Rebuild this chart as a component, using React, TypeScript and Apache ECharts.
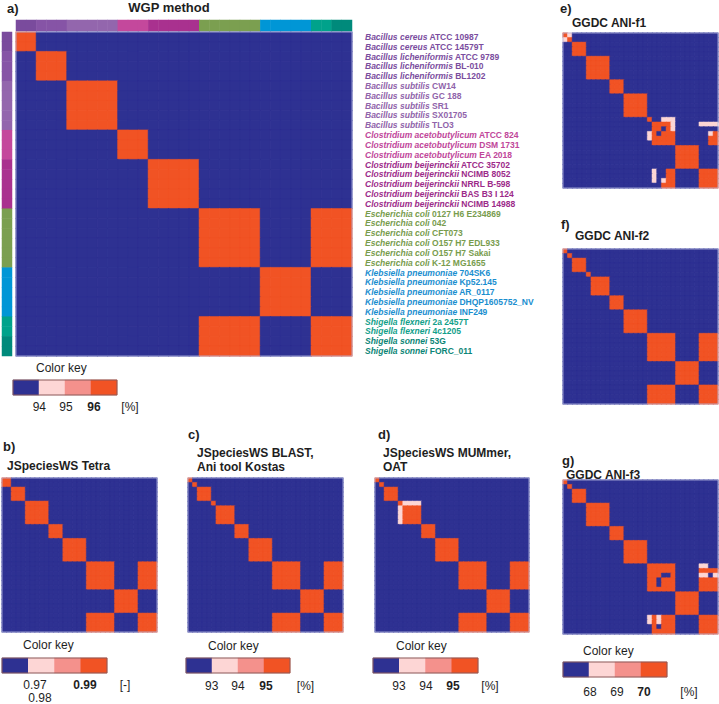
import { useEffect, useRef } from 'react';
import * as echarts from 'echarts';

const FONT = '"Liberation Sans", Arial, Helvetica, sans-serif';

const genomeSpecies = [
  'Bacillus cereus', 'Bacillus cereus',
  'Bacillus licheniformis', 'Bacillus licheniformis', 'Bacillus licheniformis',
  'Bacillus subtilis', 'Bacillus subtilis', 'Bacillus subtilis', 'Bacillus subtilis', 'Bacillus subtilis',
  'Clostridium acetobutylicum', 'Clostridium acetobutylicum', 'Clostridium acetobutylicum',
  'Clostridium beijerinckii', 'Clostridium beijerinckii', 'Clostridium beijerinckii', 'Clostridium beijerinckii', 'Clostridium beijerinckii',
  'Escherichia coli', 'Escherichia coli', 'Escherichia coli', 'Escherichia coli', 'Escherichia coli', 'Escherichia coli',
  'Klebsiella pneumoniae', 'Klebsiella pneumoniae', 'Klebsiella pneumoniae', 'Klebsiella pneumoniae', 'Klebsiella pneumoniae',
  'Shigella flexneri', 'Shigella flexneri', 'Shigella sonnei', 'Shigella sonnei',
];
const genomeStrains = [
  'ATCC 10987', 'ATCC 14579T',
  'ATCC 9789', 'BL-010', 'BL1202',
  'CW14', 'GC 188', 'SR1', 'SX01705', 'TLO3',
  'ATCC 824', 'DSM 1731', 'EA 2018',
  'ATCC 35702', 'NCIMB 8052', 'NRRL B-598', 'BAS B3 I 124', 'NCIMB 14988',
  '0127 H6 E234869', '042', 'CFT073', 'O157 H7 EDL933', 'O157 H7 Sakai', 'K-12 MG1655',
  '704SK6', 'Kp52.145', 'AR_0117', 'DHQP1605752_NV', 'INF249',
  '2a 2457T', '4c1205', '53G', 'FORC_011',
];
// annotation group of each genome (colour strips and label colours)
const genomeGroups = [0, 0, 1, 1, 1, 2, 2, 2, 2, 2, 3, 3, 3, 4, 4, 4, 4, 4, 5, 5, 5, 5, 5, 5, 6, 6, 6, 6, 6, 7, 7, 8, 8];
const stripColors = ['#7a4b9d', '#8654a6', '#9366ad', '#c4489c', '#a9318f', '#7b9f50', '#0096d6', '#00a28b', '#008a7b'];
const labelColors = ['#7a4d9e', '#7a4d9e', '#9063aa', '#c0469a', '#9c2a89', '#789c4d', '#1a8ecf', '#12a08a', '#0b8576'];

// colour key classes: 0 = below first threshold, 1, 2, 3 = above last threshold
const keyColors = ['#2e3192', '#fdd6d5', '#f4918c', '#f15324'];
const keyLevels = [0, 1, 2, 3];

// cluster id of every genome in each method (same cluster = top class)
const clustersWGP = [0, 0, 1, 1, 1, 2, 2, 2, 2, 2, 3, 3, 3, 4, 4, 4, 4, 4, 5, 5, 5, 5, 5, 5, 6, 6, 6, 6, 6, 5, 5, 5, 5];
const clustersTetra = [0, 0, 1, 1, 1, 2, 2, 2, 2, 2, 3, 3, 3, 4, 4, 4, 4, 4, 5, 5, 5, 5, 5, 5, 6, 6, 6, 6, 6, 5, 5, 5, 5];
const clustersBLAST = [0, 1, 2, 2, 2, 3, 4, 4, 4, 4, 5, 5, 5, 6, 6, 6, 6, 6, 7, 7, 7, 7, 7, 7, 8, 8, 8, 8, 8, 7, 7, 7, 7];
const clustersMUMmer = [0, 1, 2, 2, 2, 3, 4, 4, 4, 4, 5, 5, 5, 6, 6, 6, 6, 6, 7, 7, 7, 7, 7, 7, 8, 8, 8, 8, 8, 7, 7, 7, 7];
const clustersF1 = [0, 1, 2, 2, 2, 3, 3, 3, 3, 3, 4, 4, 4, 5, 5, 5, 5, 5, 6, 6, 6, 6, 6, 6, 7, 7, 7, 7, 7, 6, 6, 6, 6];
const clustersF2 = [0, 1, 2, 2, 2, 3, 4, 4, 4, 4, 5, 5, 5, 6, 6, 6, 6, 6, 7, 7, 7, 7, 7, 7, 8, 8, 8, 8, 8, 7, 7, 7, 7];
const clustersF3 = [0, 1, 2, 2, 2, 3, 3, 3, 3, 3, 4, 4, 4, 5, 5, 5, 5, 5, 6, 6, 6, 6, 6, 6, 7, 7, 7, 7, 7, 6, 6, 6, 6];

// cells that differ from the cluster pattern: [row, col, class]
const exceptionsMUMmer = [
  [5, 6, 1], [5, 7, 1], [5, 8, 1], [5, 9, 1],
  [6, 5, 1], [7, 5, 1], [8, 5, 1], [9, 5, 1],
];
const exceptionsF1 = [
  [0, 1, 1], [1, 0, 1],
  [18, 19, 0], [18, 20, 0], [18, 21, 1], [18, 22, 1], [18, 23, 1],
  [19, 18, 0], [20, 18, 0], [21, 18, 1], [22, 18, 1], [23, 18, 0],
  [20, 21, 0], [21, 20, 0], [19, 23, 1], [20, 23, 1],
  [18, 29, 0], [18, 30, 0], [18, 31, 0], [18, 32, 0],
  [19, 29, 1], [19, 30, 1], [19, 31, 1], [19, 32, 1],
  [20, 29, 0], [20, 30, 0], [20, 31, 0], [20, 32, 0],
  [21, 29, 0], [21, 30, 0], [21, 31, 1],
  [22, 29, 0], [22, 30, 0], [23, 29, 0], [23, 30, 0],
  [29, 18, 0], [30, 18, 0], [31, 18, 0], [32, 18, 0],
  [29, 19, 1], [30, 19, 1], [31, 19, 1], [32, 19, 0],
  [29, 20, 0], [30, 20, 0], [31, 20, 0], [32, 20, 0],
  [29, 21, 0], [30, 21, 0], [31, 21, 1],
];
const exceptionsF3 = [
  [20, 21, 0], [21, 20, 0], [20, 22, 0], [22, 20, 0],
  [18, 29, 1], [18, 30, 1], [18, 31, 0], [18, 32, 0],
  [20, 29, 1], [20, 30, 1], [20, 31, 0], [20, 32, 1],
  [29, 18, 1], [30, 18, 1], [31, 18, 0], [32, 18, 0],
  [29, 20, 1], [30, 20, 1], [31, 20, 0],
];

const buildMatrix = (clusters: number[], exceptions: number[][]) => {
  const out: any[] = [];
  for (let r = 0; r < clusters.length; r++) {
    for (let c = 0; c < clusters.length; c++) {
      let v = clusters[r] === clusters[c] ? 3 : 0;
      for (const e of exceptions) if (e[0] === r && e[1] === c) v = e[2];
      out.push({ value: [c, r, v], itemStyle: { borderColor: keyColors[v], borderWidth: 0.5 } });
    }
  }
  return out;
};

const matrixPanels = [
  { box: { left: 16, top: 32, width: 336, height: 324 }, clusters: clustersWGP, exceptions: [] as number[][] },
  { box: { left: 2, top: 478, width: 155, height: 154 }, clusters: clustersTetra, exceptions: [] as number[][] },
  { box: { left: 188, top: 478, width: 155, height: 154 }, clusters: clustersBLAST, exceptions: [] as number[][] },
  { box: { left: 375, top: 478, width: 154, height: 154 }, clusters: clustersMUMmer, exceptions: exceptionsMUMmer },
  { box: { left: 563, top: 33, width: 155, height: 155 }, clusters: clustersF1, exceptions: exceptionsF1 },
  { box: { left: 563, top: 249, width: 155, height: 155 }, clusters: clustersF2, exceptions: [] as number[][] },
  { box: { left: 563, top: 480, width: 155, height: 154 }, clusters: clustersF3, exceptions: exceptionsF3 },
];
const keyBoxes = [
  { left: 13, top: 380, width: 104, height: 15 },
  { left: 2, top: 658, width: 105, height: 15 },
  { left: 186, top: 658, width: 104, height: 15 },
  { left: 373, top: 658, width: 105, height: 15 },
  { left: 563, top: 662, width: 104, height: 15 },
];
const topStripBox = { left: 16, top: 20, width: 336, height: 11 };
const leftStripBox = { left: 2, top: 32, width: 10, height: 324 };

const txt = (text: string, x: number, y: number, size: number, weight = 'normal', align = 'left') => ({
  type: 'text', x, y, z: 100,
  style: { text, font: `${weight} ${size}px ${FONT}`, fill: '#1e1e1e', textAlign: align, textVerticalAlign: 'middle', align, verticalAlign: 'middle' },
});

export default function App() {
  const ref = useRef<HTMLDivElement>(null);
  useEffect(() => {
    if (!ref.current) return;
    const chart = echarts.init(ref.current, null, { renderer: 'svg' });
    const idx = genomeSpecies.map((_, i) => String(i));
    const grids: any[] = [];
    const xAxes: any[] = [];
    const yAxes: any[] = [];
    const series: any[] = [];

    const rich: any = {};
    labelColors.forEach((c, g) => {
      rich['s' + g] = { color: c, fontStyle: 'italic', fontWeight: 'bold', fontSize: 8.5, fontFamily: FONT };
      rich['t' + g] = { color: c, fontWeight: 'bold', fontSize: 8.5, fontFamily: FONT };
    });

    matrixPanels.forEach((p, i) => {
      grids.push({ ...p.box, show: true, z: 10, backgroundColor: 'transparent', borderColor: '#b4b8e0', borderWidth: 0.8 });
      xAxes.push({ type: 'category', data: idx, gridIndex: i, show: false });
      if (i === 0) {
        yAxes.push({
          type: 'category', data: idx, gridIndex: i, inverse: true, position: 'right',
          axisLine: { show: false }, axisTick: { show: false }, splitLine: { show: false },
          axisLabel: {
            interval: 0, margin: 13, fontSize: 8.5, fontWeight: 'bold', fontFamily: FONT,
            formatter: (_v: string, k: number) => {
              const g = genomeGroups[k];
              return `{s${g}|${genomeSpecies[k]}}{t${g}| ${genomeStrains[k]}}`;
            },
            rich,
          },
        });
      } else {
        yAxes.push({ type: 'category', data: idx, gridIndex: i, inverse: true, show: false });
      }
      series.push({
        type: 'heatmap', xAxisIndex: i, yAxisIndex: i, data: buildMatrix(p.clusters, p.exceptions),
        emphasis: { disabled: true },
      });
    });

    keyBoxes.forEach((b) => {
      const gi = grids.length;
      grids.push({ ...b, show: true, z: 10, backgroundColor: 'transparent', borderColor: '#8a5a5a', borderWidth: 1 });
      xAxes.push({ type: 'category', data: keyLevels.map(String), gridIndex: gi, show: false });
      yAxes.push({ type: 'category', data: ['0'], gridIndex: gi, show: false });
      series.push({
        type: 'heatmap', xAxisIndex: gi, yAxisIndex: gi, data: keyLevels.map((v, k) => [k, 0, v]),
        itemStyle: { borderWidth: 0 }, emphasis: { disabled: true },
      });
    });

    // top strip
    let gi = grids.length;
    grids.push({ ...topStripBox });
    xAxes.push({ type: 'category', data: idx, gridIndex: gi, show: false });
    yAxes.push({ type: 'category', data: ['0'], gridIndex: gi, show: false });
    series.push({
      type: 'heatmap', xAxisIndex: gi, yAxisIndex: gi, data: genomeGroups.map((g, k) => [k, 0, g]),
      itemStyle: { borderWidth: 0 }, emphasis: { disabled: true },
    });
    // left strip
    gi = grids.length;
    grids.push({ ...leftStripBox });
    xAxes.push({ type: 'category', data: ['0'], gridIndex: gi, show: false });
    yAxes.push({ type: 'category', data: idx, gridIndex: gi, inverse: true, show: false });
    series.push({
      type: 'heatmap', xAxisIndex: gi, yAxisIndex: gi, data: genomeGroups.map((g, k) => [0, k, g]),
      itemStyle: { borderWidth: 0 }, emphasis: { disabled: true },
    });

    const nMain = matrixPanels.length + keyBoxes.length;
    const graphics = [
      txt('a)', 7, 8, 13, 'bold'),
      txt('WGP method', 169, 7, 13, 'bold', 'center'),
      txt('b)', 3, 446, 13, 'bold'),
      txt('JSpeciesWS Tetra', 7, 465.5, 12, 'bold'),
      txt('c)', 188, 434, 13, 'bold'),
      txt('JSpeciesWS BLAST,', 197, 453, 12, 'bold'),
      txt('Ani tool Kostas', 197, 467, 12, 'bold'),
      txt('d)', 378, 434, 13, 'bold'),
      txt('JSpeciesWS MUMmer,', 383, 453, 12, 'bold'),
      txt('OAT', 383, 467, 12, 'bold'),
      txt('e)', 560, 8, 13, 'bold'),
      txt('GGDC ANI-f1', 572, 23, 12, 'bold'),
      txt('f)', 561, 224, 13, 'bold'),
      txt('GGDC ANI-f2', 575, 235.5, 12, 'bold'),
      txt('g)', 562, 460, 13, 'bold'),
      txt('GGDC ANI-f3', 566, 475, 12, 'bold'),
      // colour keys
      txt('Color key', 36, 368, 12),
      txt('94', 39.3, 407, 12, 'normal', 'center'),
      txt('95', 66, 407, 12, 'normal', 'center'),
      txt('96', 94, 407, 12, 'bold', 'center'),
      txt('[%]', 130, 407, 12, 'normal', 'center'),
      txt('Color key', 23, 645, 12),
      txt('0.97', 35, 685, 12, 'normal', 'center'),
      txt('0.98', 40, 697.5, 12, 'normal', 'center'),
      txt('0.99', 85, 685, 12, 'bold', 'center'),
      txt('[-]', 125, 685, 12, 'normal', 'center'),
      txt('Color key', 208, 646, 12),
      txt('93', 211.7, 686, 12, 'normal', 'center'),
      txt('94', 238, 686, 12, 'normal', 'center'),
      txt('95', 266, 686, 12, 'bold', 'center'),
      txt('[%]', 305.5, 686, 12, 'normal', 'center'),
      txt('Color key', 396, 646, 12),
      txt('93', 399, 686, 12, 'normal', 'center'),
      txt('94', 426, 686, 12, 'normal', 'center'),
      txt('95', 453, 686, 12, 'bold', 'center'),
      txt('[%]', 490, 686, 12, 'normal', 'center'),
      txt('Color key', 583, 651, 12),
      txt('68', 590, 692, 12, 'normal', 'center'),
      txt('69', 617, 692, 12, 'normal', 'center'),
      txt('70', 644, 692, 12, 'bold', 'center'),
      txt('[%]', 689, 692, 12, 'normal', 'center'),
    ];

    chart.setOption({
      animation: false,
      backgroundColor: '#ffffff',
      grid: grids,
      xAxis: xAxes,
      yAxis: yAxes,
      visualMap: [
        {
          type: 'piecewise', show: false, dimension: 2,
          seriesIndex: Array.from({ length: nMain }, (_, k) => k),
          pieces: keyLevels.map((v) => ({ value: v, color: keyColors[v] })),
        },
        {
          type: 'piecewise', show: false, dimension: 2,
          seriesIndex: [nMain, nMain + 1],
          pieces: stripColors.map((c, k) => ({ value: k, color: c })),
        },
      ],
      series,
      graphic: graphics,
    });
    return () => chart.dispose();
  }, []);
  return <div ref={ref} style={{ position: 'absolute', left: 0, top: 0, width: 719, height: 704 }} />;
}
